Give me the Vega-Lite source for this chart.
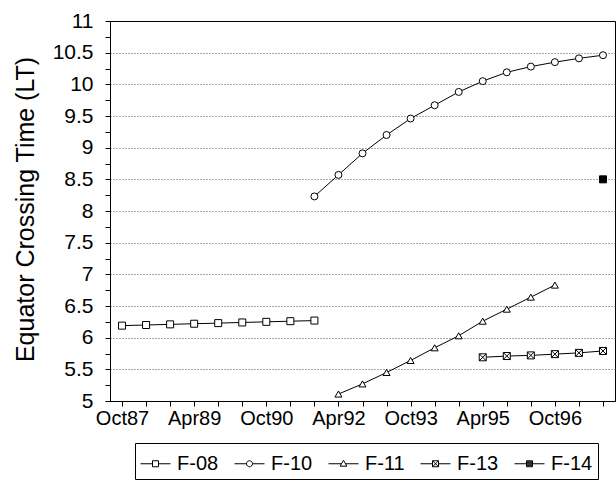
{
  "$schema": "https://vega.github.io/schema/vega-lite/v6.json",
  "width": 505,
  "height": 380,
  "autosize": {"type": "none"},
  "padding": {"left": 110, "top": 21, "right": 1, "bottom": 81},
  "background": "white",
  "config": {
    "font": "Liberation Sans",
    "view": {"stroke": "black", "strokeWidth": 1},
    "axis": {"labelColor": "black", "titleColor": "black", "domainColor": "black", "tickColor": "black", "labelFont": "Liberation Sans", "titleFont": "Liberation Sans"}
  },
  "data": {
    "values": [
      {"date": "Oct87", "sat": "F-08", "ect": 6.19},
      {"date": "Apr88", "sat": "F-08", "ect": 6.20},
      {"date": "Oct88", "sat": "F-08", "ect": 6.21},
      {"date": "Apr89", "sat": "F-08", "ect": 6.22},
      {"date": "Oct89", "sat": "F-08", "ect": 6.23},
      {"date": "Apr90", "sat": "F-08", "ect": 6.24},
      {"date": "Oct90", "sat": "F-08", "ect": 6.25},
      {"date": "Apr91", "sat": "F-08", "ect": 6.26},
      {"date": "Oct91", "sat": "F-08", "ect": 6.27},
      {"date": "Oct91", "sat": "F-10", "ect": 8.23},
      {"date": "Apr92", "sat": "F-10", "ect": 8.57},
      {"date": "Oct92", "sat": "F-10", "ect": 8.91},
      {"date": "Apr93", "sat": "F-10", "ect": 9.20},
      {"date": "Oct93", "sat": "F-10", "ect": 9.46},
      {"date": "Apr94", "sat": "F-10", "ect": 9.67},
      {"date": "Oct94", "sat": "F-10", "ect": 9.88},
      {"date": "Apr95", "sat": "F-10", "ect": 10.05},
      {"date": "Oct95", "sat": "F-10", "ect": 10.19},
      {"date": "Apr96", "sat": "F-10", "ect": 10.28},
      {"date": "Oct96", "sat": "F-10", "ect": 10.35},
      {"date": "Apr97", "sat": "F-10", "ect": 10.41},
      {"date": "Oct97", "sat": "F-10", "ect": 10.46},
      {"date": "Apr92", "sat": "F-11", "ect": 5.11},
      {"date": "Oct92", "sat": "F-11", "ect": 5.27},
      {"date": "Apr93", "sat": "F-11", "ect": 5.45},
      {"date": "Oct93", "sat": "F-11", "ect": 5.64},
      {"date": "Apr94", "sat": "F-11", "ect": 5.84},
      {"date": "Oct94", "sat": "F-11", "ect": 6.03},
      {"date": "Apr95", "sat": "F-11", "ect": 6.26},
      {"date": "Oct95", "sat": "F-11", "ect": 6.45},
      {"date": "Apr96", "sat": "F-11", "ect": 6.64},
      {"date": "Oct96", "sat": "F-11", "ect": 6.83},
      {"date": "Apr95", "sat": "F-13", "ect": 5.69},
      {"date": "Oct95", "sat": "F-13", "ect": 5.71},
      {"date": "Apr96", "sat": "F-13", "ect": 5.72},
      {"date": "Oct96", "sat": "F-13", "ect": 5.74},
      {"date": "Apr97", "sat": "F-13", "ect": 5.76},
      {"date": "Oct97", "sat": "F-13", "ect": 5.79},
      {"date": "Oct97", "sat": "F-14", "ect": 8.5}
    ]
  },
  "encoding": {
    "x": {
      "field": "date",
      "type": "ordinal",
      "scale": {
        "type": "point",
        "padding": 0.5,
        "domain": ["Oct87","Apr88","Oct88","Apr89","Oct89","Apr90","Oct90","Apr91","Oct91","Apr92","Oct92","Apr93","Oct93","Apr94","Oct94","Apr95","Oct95","Apr96","Oct96","Apr97","Oct97"]
      },
      "axis": {
        "title": null,
        "grid": false,
        "labelAngle": 0,
        "labelFontSize": 20,
        "labelPadding": 2,
        "tickSize": 5,
        "labelExpr": "indexof(['Oct87','Apr89','Oct90','Apr92','Oct93','Apr95','Oct96'], datum.value) >= 0 ? datum.value : ''"
      }
    },
    "y": {
      "field": "ect",
      "type": "quantitative",
      "scale": {"domain": [5, 11], "nice": false, "zero": false},
      "axis": {
        "title": "Equator Crossing Time (LT)",
        "titleFontSize": 25,
        "titleFontWeight": "normal",
        "titleX": -72,
        "titleY": 188,
        "titleBaseline": "bottom",
        "values": [5,5.25,5.5,5.75,6,6.25,6.5,6.75,7,7.25,7.5,7.75,8,8.25,8.5,8.75,9,9.25,9.5,9.75,10,10.25,10.5,10.75,11],
        "labelExpr": "datum.value % 0.5 === 0 ? format(datum.value, '~g') : ''",
        "labelFontSize": 21,
        "labelPadding": 12,
        "tickSize": 5,
        "grid": true,
        "gridColor": "#555",
        "gridDash": [1, 2],
        "gridWidth": 1,
        "gridOpacity": {"condition": {"test": "datum.value % 0.5 === 0 && datum.value > 5 && datum.value < 11", "value": 1}, "value": 0}
      }
    }
  },
  "layer": [
    {
      "mark": {"type": "line", "color": "black", "strokeWidth": 1},
      "encoding": {
        "detail": {"field": "sat"},
        "order": {"value": null}
      }
    },
    {
      "mark": {"type": "point", "filled": true, "stroke": "black", "strokeWidth": 1, "size": 49, "opacity": 1},
      "encoding": {
        "shape": {
          "field": "sat",
          "scale": {
            "domain": ["F-08","F-10","F-11","F-13","F-14"],
            "range": ["square","circle","triangle-up","M-1,-1H1V1H-1ZM-1,-1L1,1M1,-1L-1,1","square"]
          },
          "legend": null
        },
        "fill": {
          "field": "sat",
          "scale": {
            "domain": ["F-08","F-10","F-11","F-13","F-14"],
            "range": ["white","white","white","white","black"]
          },
          "legend": null
        }
      }
    },
    {
      "transform": [{"filter": "datum.ect > 100"}],
      "mark": {"type": "point", "filled": false, "color": "black", "strokeWidth": 1, "size": 900, "opacity": 1},
      "encoding": {
        "shape": {
          "field": "sat",
          "scale": {
            "domain": ["F-08","F-10","F-11","F-13","F-14"],
            "range": [
              "M-1,0L-0.2,0M0.2,0L1,0M-0.2,-0.2L0.2,-0.2L0.2,0.2L-0.2,0.2Z",
              "M-1,0L-0.2,0M0.2,0L1,0M0.2,0C0.2,0.11 0.11,0.2 0,0.2C-0.11,0.2 -0.2,0.11 -0.2,0C-0.2,-0.11 -0.11,-0.2 0,-0.2C0.11,-0.2 0.2,-0.11 0.2,0Z",
              "M-1,0L-0.13,0M0.13,0L1,0M0,-0.23L0.23,0.16L-0.23,0.16Z",
              "M-1,0L-0.2,0M0.2,0L1,0M-0.2,-0.2L0.2,-0.2L0.2,0.2L-0.2,0.2ZM-0.2,-0.2L0.2,0.2M0.2,-0.2L-0.2,0.2",
              "M-1,0L1,0M-0.2,-0.2L0.2,-0.2L0.2,0.2L-0.2,0.2ZM-0.2,-0.13L0.2,-0.13M-0.2,-0.07L0.2,-0.07M-0.2,0.07L0.2,0.07M-0.2,0.13L0.2,0.13"
            ]
          },
          "legend": {
            "title": null,
            "orient": "none",
            "direction": "horizontal",
            "columns": 5,
            "legendX": 25,
            "legendY": 422,
            "padding": 5,
            "strokeColor": "black",
            "fillColor": "white",
            "labelFontSize": 20,
            "labelFont": "Liberation Sans",
            "labelColor": "black",
            "labelOffset": 6,
            "columnPadding": 13,
            "symbolSize": 900,
            "symbolStrokeColor": "black",
            "symbolFillColor": "white",
            "symbolStrokeWidth": 1,
            "symbolOpacity": 1
          }
        }
      }
    }
  ],
  "resolve": {"scale": {"shape": "independent", "fill": "independent"}}
}
